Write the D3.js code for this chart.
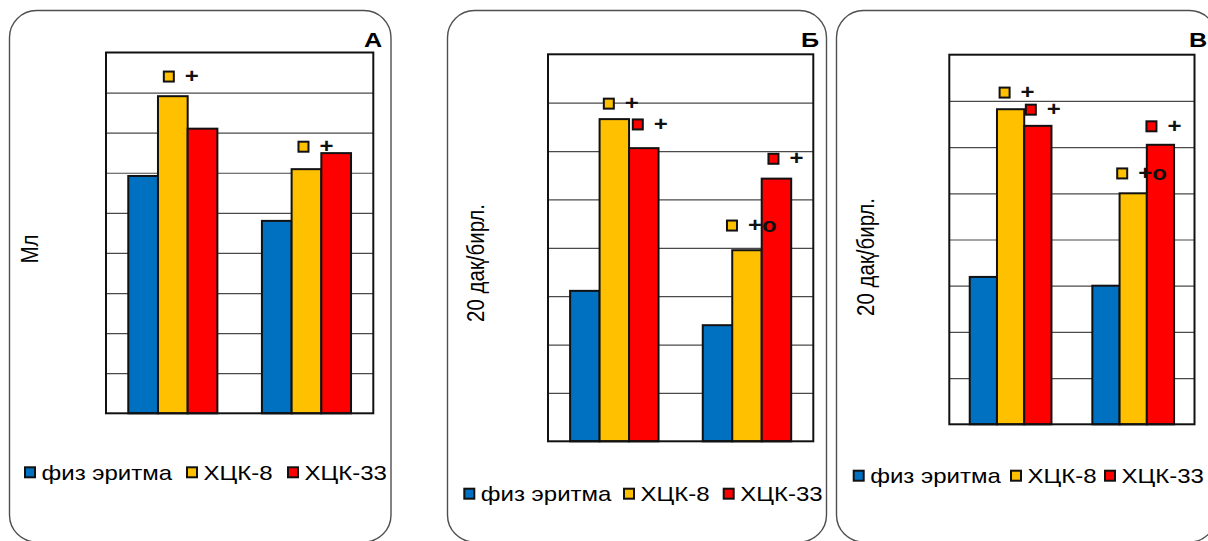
<!DOCTYPE html>
<html><head><meta charset="utf-8">
<script src="https://cdn.jsdelivr.net/npm/d3@7"></script>
<style>body{margin:0;background:#fff}svg{display:block}</style>
</head><body>
<svg id="c" width="1208" height="541"></svg>
<script>
// ---------- data ----------
const categories = ["I", "II"];
const seriesNames = ["физ эритма", "ХЦК-8", "ХЦК-33"];
const seriesColors = ["#0070C0", "#FFC000", "#FF0000"];

// Panel А (Мл)
const valuesA_fiz = [5.92, 4.80];
const valuesA_x8  = [7.91, 6.09];
const valuesA_x33 = [7.10, 6.49];
// Panel Б (20 дақ/бирл.)
const valuesB_fiz = [3.11, 2.40];
const valuesB_x8  = [6.66, 3.95];
const valuesB_x33 = [6.06, 5.43];
// Panel В (20 дақ/бирл.)
const valuesV_fiz = [3.19, 3.00];
const valuesV_x8  = [6.82, 5.00];
const valuesV_x33 = [6.46, 6.05];

const yMaxA = 9, yMaxB = 8, yMaxV = 8;

// significance marks: category, series (colour of square), level, text
const annotA = [
  {cat: "I",  series: 1, level: 8.40, text: "+"},
  {cat: "II", series: 1, level: 6.65, text: "+"}
];
const annotB = [
  {cat: "I",  series: 1, level: 6.98, text: "+"},
  {cat: "I",  series: 2, level: 6.55, text: "+"},
  {cat: "II", series: 1, level: 4.46, text: "+o"},
  {cat: "II", series: 2, level: 5.84, text: "+"}
];
const annotV = [
  {cat: "I",  series: 1, level: 7.18, text: "+"},
  {cat: "I",  series: 2, level: 6.81, text: "+"},
  {cat: "II", series: 2, level: 6.45, text: "+"},
  {cat: "II", series: 1, level: 5.43, text: "+o"}
];

// ---------- layout ----------
const FONT = "'Liberation Sans', Arial, sans-serif";
const SX = 1.2; // horizontal stretch of the original picture

const panels = [
  {letter: "А", title: "Мл", yMax: yMaxA, values: [valuesA_fiz, valuesA_x8, valuesA_x33], annots: annotA,
   box: [9.5, 10.5, 381.5, 531.5], plot: [106, 52.5, 373.3, 413.3],
   titleC: [29.5, 249], letterX: 364, legendX: [24, 186, 287], legendY: 472.3, annotDx: [-4, -3]},
  {letter: "Б", title: "20 дақ/бирл.", yMax: yMaxB, values: [valuesB_fiz, valuesB_x8, valuesB_x33], annots: annotB,
   box: [447.5, 10.5, 379, 531.5], plot: [548, 54.3, 813.3, 441.3],
   titleC: [476, 263], letterX: 801, legendX: [463.3, 623, 722.7], legendY: 493.7, annotDx: [-5.5, -6, -15, -3]},
  {letter: "В", title: "20 дақ/бирл.", yMax: yMaxV, values: [valuesV_fiz, valuesV_x8, valuesV_x33], annots: annotV,
   box: [836.5, 10.5, 380, 531.5], plot: [949.3, 54.7, 1194.5, 424.3],
   titleC: [866, 257], letterX: 1189, legendX: [852.7, 1010, 1104], legendY: 475.7, annotDx: [-6, -7, -9, -11]}
];

const svg = d3.select("#c");

panels.forEach(p => {
  const g = svg.append("g");
  // outer rounded frame
  g.append("rect").attr("x", p.box[0]).attr("y", p.box[1]).attr("width", p.box[2]).attr("height", p.box[3])
    .attr("rx", 27).attr("ry", 27).attr("fill", "none").attr("stroke", "#4f4f4f").attr("stroke-width", 1.4);

  const [px0, py0, px1, py1] = p.plot;
  const y = d3.scaleLinear().domain([0, p.yMax]).range([py1, py0]);
  const x0 = d3.scaleBand().domain(categories).range([px0, px1]).padding(0);
  const bw = x0.bandwidth();
  const x1 = d3.scaleBand().domain(d3.range(seriesNames.length)).range([bw / 6, bw * 5 / 6]).padding(0);

  // gridlines
  g.append("g").attr("transform", `translate(${px0},0)`)
    .call(d3.axisLeft(y).tickValues(d3.range(1, p.yMax)).tickSize(-(px1 - px0)).tickFormat(""))
    .call(a => a.select(".domain").remove())
    .selectAll("line").attr("stroke", "#4a4a4a").attr("stroke-width", 1.2);

  // bars
  const rows = [];
  categories.forEach((c, ci) => seriesNames.forEach((s, si) => rows.push({c, si, v: p.values[si][ci]})));
  g.append("g").selectAll("rect").data(rows).join("rect")
    .attr("x", d => x0(d.c) + x1(d.si))
    .attr("y", d => y(d.v))
    .attr("width", x1.bandwidth())
    .attr("height", d => y(0) - y(d.v))
    .attr("fill", d => seriesColors[d.si])
    .attr("stroke", "#111").attr("stroke-width", 2);

  // plot frame
  g.append("rect").attr("x", px0).attr("y", py0).attr("width", px1 - px0).attr("height", py1 - py0)
    .attr("fill", "none").attr("stroke", "#111").attr("stroke-width", 2);

  // significance marks
  p.annots.forEach((a, i) => {
    const cx = x0(a.cat) + x1(a.series) + x1.bandwidth() / 2 + p.annotDx[i];
    const cy = y(a.level);
    g.append("rect").attr("x", cx - 5).attr("y", cy - 5).attr("width", 10).attr("height", 10)
      .attr("fill", seriesColors[a.series]).attr("stroke", "#111").attr("stroke-width", 2);
    g.append("text").attr("transform", `translate(${cx + 16},${cy + 6.5}) scale(${SX},1)`)
      .attr("font-family", FONT).attr("font-weight", "bold").attr("font-size", 20).attr("fill", "#111")
      .text(a.text);
  });

  // panel letter
  g.append("text").attr("transform", `translate(${p.letterX},47) scale(${SX},1)`)
    .attr("font-family", FONT).attr("font-weight", "bold").attr("font-size", 21).attr("fill", "#000")
    .text(p.letter);

  // y title
  g.append("text").attr("transform", `translate(${p.titleC[0]},${p.titleC[1]}) scale(${SX},1) rotate(-90)`)
    .attr("font-family", FONT).attr("font-size", 20.5).attr("fill", "#000")
    .attr("text-anchor", "middle").attr("dominant-baseline", "central")
    .text(p.title);

  // legend
  seriesNames.forEach((s, si) => {
    const lx = p.legendX[si];
    g.append("rect").attr("x", lx + 1).attr("y", p.legendY - 5).attr("width", 10).attr("height", 10)
      .attr("fill", seriesColors[si]).attr("stroke", "#111").attr("stroke-width", 2);
    g.append("text").attr("transform", `translate(${lx + 17.5},${p.legendY + 7.5}) scale(${SX},1)`)
      .attr("font-family", FONT).attr("font-size", 20).attr("fill", "#000")
      .text(s);
  });
});
</script>
</body></html>
